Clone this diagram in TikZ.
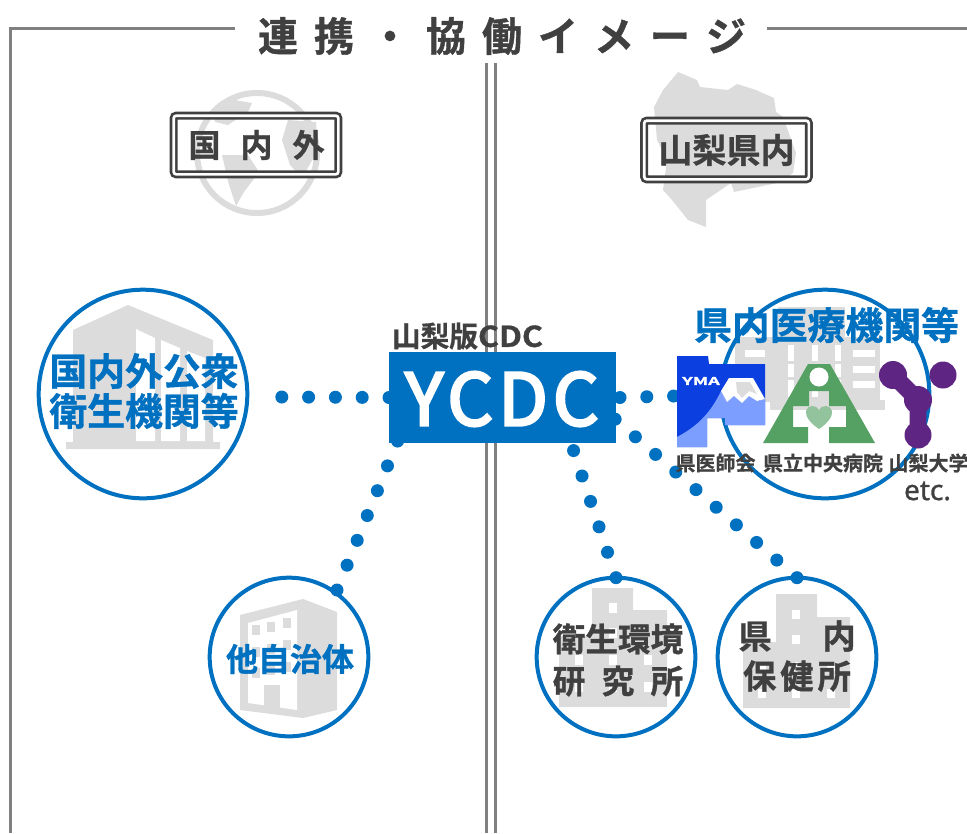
\documentclass[tikz,border=0pt]{standalone}
\usepackage{fontspec}
\usepackage{graphicx}
\usetikzlibrary{calc}
\newfontfamily\cjk{Noto Sans CJK JP}[BoldFont={Noto Sans CJK JP Bold}, BoldFeatures={FakeBold=1}]
\newfontfamily\latinfont{Noto Sans}[FakeBold=1]
\newfontfamily\ycdcfont{Noto Sans CJK JP}[FakeBold=3.5, LetterSpace=7]
\definecolor{ycblue}{HTML}{0070C0}
\definecolor{ink}{HTML}{404040}
\definecolor{bldgray}{HTML}{DCDCDC}
\definecolor{framegray}{HTML}{808080}
\definecolor{ymadark}{HTML}{0B3FE0}
\definecolor{ymalight}{HTML}{7C9FFF}
\definecolor{hospgreen}{HTML}{55A063}
\definecolor{hospheart}{HTML}{93C39C}
\definecolor{univpurple}{HTML}{5F2583}
\def\gapsp#1{\spaceskip=#1\relax\xspaceskip=#1\relax}
\def\fs#1#2{\cjk\bfseries\fontsize{#1}{#2}\selectfont}
\tikzset{
	framing/.style={draw=framegray, line width=2.25pt},
	bigring/.style={circle, draw=ycblue, line width=3pt, minimum size=156.5pt, inner sep=0pt, outer sep=0pt},
	smallring/.style={circle, draw=ycblue, line width=3pt, minimum size=119pt, inner sep=0pt, outer sep=0pt},
	dotline/.style={draw=ycblue, line width=9.75pt, line cap=round, dash pattern=on 0pt off 20.1pt},
	areabox/.style={draw=ink, double=white, line width=2pt, double distance=2pt, rounded corners=2pt, minimum width=123.5pt, minimum height=44pt, inner sep=0pt, outer sep=0pt},
	bluelab/.style={text=ycblue, align=center, inner sep=0pt},
	inklab/.style={text=ink, align=center, inner sep=0pt},
}
\begin{document}
\begin{tikzpicture}[x=0.75pt, y=-0.75pt]
	\useasboundingbox (0, 0) rectangle (967, 833);
	%%%%% frame %%%%%
	\draw[framing] (235, 28) -- (10, 28) -- (10, 833);
	\draw[framing] (767, 28) -- (967, 28);
	\draw[framing] (486.5, 63) -- (486.5, 833);
	\draw[framing] (495, 63) -- (495, 833);

	\node[inklab, font=\fs{30}{36}] (title) at (502, 36) {\gapsp{12pt}連 携 ・ 協 働 イ メ ー ジ};

	%%%%% globe and prefecture %%%%%
	\draw[bldgray, line width=4.5pt] (257, 153) circle (60);
	\fill[bldgray] (213, 112) -- (235, 100) -- (252, 103) -- (248, 112) -- (228, 125) -- (215, 122) -- cycle;
	\fill[bldgray] (222, 155) -- (248, 155) -- (259, 172) -- (244, 192) -- (236, 206) -- (229, 185) -- cycle;
	\fill[bldgray] (288, 120) -- (316, 122) -- (318, 150) -- (302, 178) -- (290, 165) -- (282, 140) -- cycle;
	\fill[bldgray] (678, 72) -- (697, 80) -- (700, 87) -- (728, 90) -- (737, 84) -- (756, 90) -- (774, 98) -- (776, 112) -- (783, 117) -- (796, 153) -- (793, 173) -- (777, 183) -- (734, 192) -- (731, 183) -- (706, 200) -- (706, 227) -- (688, 220) -- (672, 200) -- (663, 190) -- (667, 160) -- (657, 140) -- (654, 107) -- (663, 90) -- cycle;

	\node[areabox] (abroadbox) at (256, 145) {};
	\node[areabox] (prefbox) at (726.5, 150) {};
	\node[inklab, font=\fs{24}{28}] (abroadlab) at (256.5, 145) {\gapsp{15pt}国 内 外};
	\node[inklab, font=\fs{25.5}{28}] (preflab) at (726.5, 150) {山梨県内};

	%%%%% buildings %%%%%
	\fill[bldgray] (73, 330) -- (128, 305) -- (213, 340) -- (213, 442) -- (220, 442) -- (220, 449) -- (66, 449) -- (66, 442) -- (73, 442) -- cycle;
	\fill[white] (136, 329) -- (155, 338) -- (155, 441) -- (136, 441) -- cycle;
	\fill[white] (161, 340) -- (180, 348) -- (180, 441) -- (161, 441) -- cycle;
	\fill[white] (187, 351) -- (205, 358) -- (205, 441) -- (187, 441) -- cycle;

	\fill[bldgray] (240, 615) -- (303, 599) -- (337, 612) -- (337, 710) -- (303, 718) -- (240, 710) -- cycle;
	\fill[white] (248, 623) -- (297, 610) -- (297, 710) -- (248, 703) -- cycle;
	\foreach \px/\py in {252/625, 267/622, 283/618, 252/647, 267/644, 283/640, 252/668, 267/665, 283/662}
		\fill[bldgray] (\px, \py) rectangle +(8, 10);
	\fill[bldgray] (264, 685) rectangle (280, 708);

	\fill[bldgray] (592, 588) -- (633, 588) -- (633, 610) -- (667, 610) -- (667, 707) -- (559, 707) -- (559, 636) -- (592, 636) -- cycle;
	\foreach \px/\py in {609/603, 609/628, 575/655, 609/655, 644/655, 575/682, 609/682, 644/682}
		\fill[white] (\px, \py) rectangle +(8, 10);

	\fill[bldgray] (776, 594) -- (817, 594) -- (817, 617) -- (850, 617) -- (850, 708) -- (743, 708) -- (743, 642) -- (776, 642) -- cycle;
	\foreach \px/\py in {792/610, 792/635, 758/662, 792/662, 827/662, 758/689, 792/689, 827/689}
		\fill[white] (\px, \py) rectangle +(8, 9);

	\fill[bldgray] (778, 307) rectangle (845, 337);
	\fill[bldgray] (735, 337) rectangle (880, 402);
	\fill[bldgray] (770, 400) rectangle (885, 410);
	\foreach \py in {350, 366, 381} {
		\fill[white] (745, \py) rectangle +(20, 7);
		\fill[white] (853, \py) rectangle +(22, 7);
	}
	\foreach \px in {788, 812, 835}
		\fill[white] (\px, 345) rectangle +(6, 52);
	\foreach \py in {361, 377}
		\fill[bldgray] (785, \py) rectangle (842, \py+3);

	%%%%% rings %%%%%
	\node[bigring] (abroad) at (143, 394) {};
	\node[bigring] (hospitals) at (825, 394) {};
	\node[smallring] (cities) at (289, 657) {};
	\node[smallring] (institute) at (616, 657) {};
	\node[smallring] (health) at (797, 657) {};

	%%%%% YCDC and dots %%%%%
	\node[minimum width=170.25pt, minimum height=68.25pt, inner sep=0pt, outer sep=0pt] (ycdc) at (502.5, 397.5) {};
	\coordinate (leftend) at (281, 397);
	\coordinate (rightend) at (675, 396);
	\coordinate (citystart) at (337, 590);
	\coordinate (cityend) at (397.8, 440.5);
	\coordinate (instend) at (572.7, 448);
	\coordinate (healthend) at (614.6, 418.7);

	\draw[dotline] (ycdc.west) -- (leftend);
	\draw[dotline] ([xshift=3pt]ycdc.east) -- (rightend);
	\draw[dotline] (citystart) -- (cityend);
	\draw[dotline] (institute.north) -- (instend);
	\draw[dotline] (health.north) -- (healthend);
	\fill[ycblue] (ycdc.south west) rectangle (ycdc.north east);
	\node[text=white, inner sep=0pt, font=\ycdcfont\fontsize{54}{60}\selectfont] (ycdclab) at (502, 399) {YCDC};
	\node[inklab, font=\fs{21.5}{26}] (ycdctop) at (467.5, 336) {山梨版\scalebox{1.12}[1]{CDC}};

	%%%%% logos %%%%%
	\fill[ymadark] (677, 356) -- (708, 356) -- (709, 364) -- (765, 364) -- (765, 425) -- (725, 425) -- (725, 418) -- (707, 418) -- (707, 447) -- (677, 447) -- cycle;
	\fill[ymalight] (677, 437) .. controls (700, 425) and (712, 410) .. (721, 391) -- (727, 402) -- (734, 396) -- (742, 403) -- (749, 396) -- (757, 401) -- (765, 399) -- (765, 425) -- (725, 425) -- (725, 418) -- (707, 418) -- (707, 447) -- (677, 447) -- cycle;
	\fill[white] (721, 391) -- (729, 378) -- (753, 378) -- (765, 399) -- (757, 401) -- (749, 396) -- (742, 403) -- (734, 396) -- (727, 402) -- cycle;
	\fill[bldgray] (736, 382) -- (750, 382) -- (757, 394) -- (749, 391) -- (742, 398) -- (737, 392) -- cycle;
	\node[text=white, inner sep=0pt, font=\fs{8}{9}] (ymalab) at (701, 381) {\scalebox{1.7}[1]{YMA}};

	\fill[hospgreen] (808, 364) -- (830, 364) -- (875, 443) -- (829, 443) -- (829, 427) -- (846, 427) -- (846, 406) -- (829, 406) -- (829, 391) -- (809, 391) -- (809, 406) -- (793, 406) -- (793, 427) -- (808, 427) -- (808, 443) -- (763, 443) -- cycle;
	\fill[white] (819, 377) circle (9.5);
	\fill[hospheart] (819, 429) .. controls (810, 423) and (805, 416) .. (806, 411) .. controls (807, 405) and (816, 404) .. (819, 410) .. controls (822, 404) and (831, 405) .. (832, 411) .. controls (833, 416) and (828, 423) .. (819, 429) -- cycle;

	\draw[univpurple, line width=12.5pt] (893, 375) -- (918, 400) -- (918, 435);
	\fill[univpurple] (893, 375) circle (14);
	\fill[univpurple] (943, 375) circle (13.5);
	\fill[univpurple] (918, 400) circle (14);
	\fill[univpurple] (918, 435) circle (13.5);

	%%%%% labels %%%%%
	\node[bluelab, font=\fs{28.4}{30}] (abroadtxt) at (144, 391) {国内外公衆\\衛生機関等};
	\node[bluelab, font=\fs{28.4}{30}] (hospitalstxt) at (826.5, 325) {県内医療機関等};
	\node[bluelab, font=\fs{24}{28}] (citiestxt) at (290, 659) {他自治体};
	\node[inklab, font=\fs{24.5}{31.5}] (institutetxt) at (618, 660) {衛生環境\\\gapsp{12.2pt}研 究 所};
	\node[inklab, font=\fs{25}{30}] (healthtxt) at (797, 656) {\gapsp{38pt}県 内\\\gapsp{3pt}保 健 所};
	\node[inklab, font=\fs{15}{18}] (ymatxt) at (715.5, 463) {県医師会};
	\node[inklab, font=\fs{15}{18}] (hosptxt) at (823, 463) {県立中央病院};
	\node[inklab, font=\fs{15}{18}] (univtxt) at (928.5, 463) {山梨大学};
	\node[inklab, font=\latinfont\fontsize{21}{24}\selectfont] (etctxt) at (927.5, 491) {etc.};
\end{tikzpicture}
\end{document}
